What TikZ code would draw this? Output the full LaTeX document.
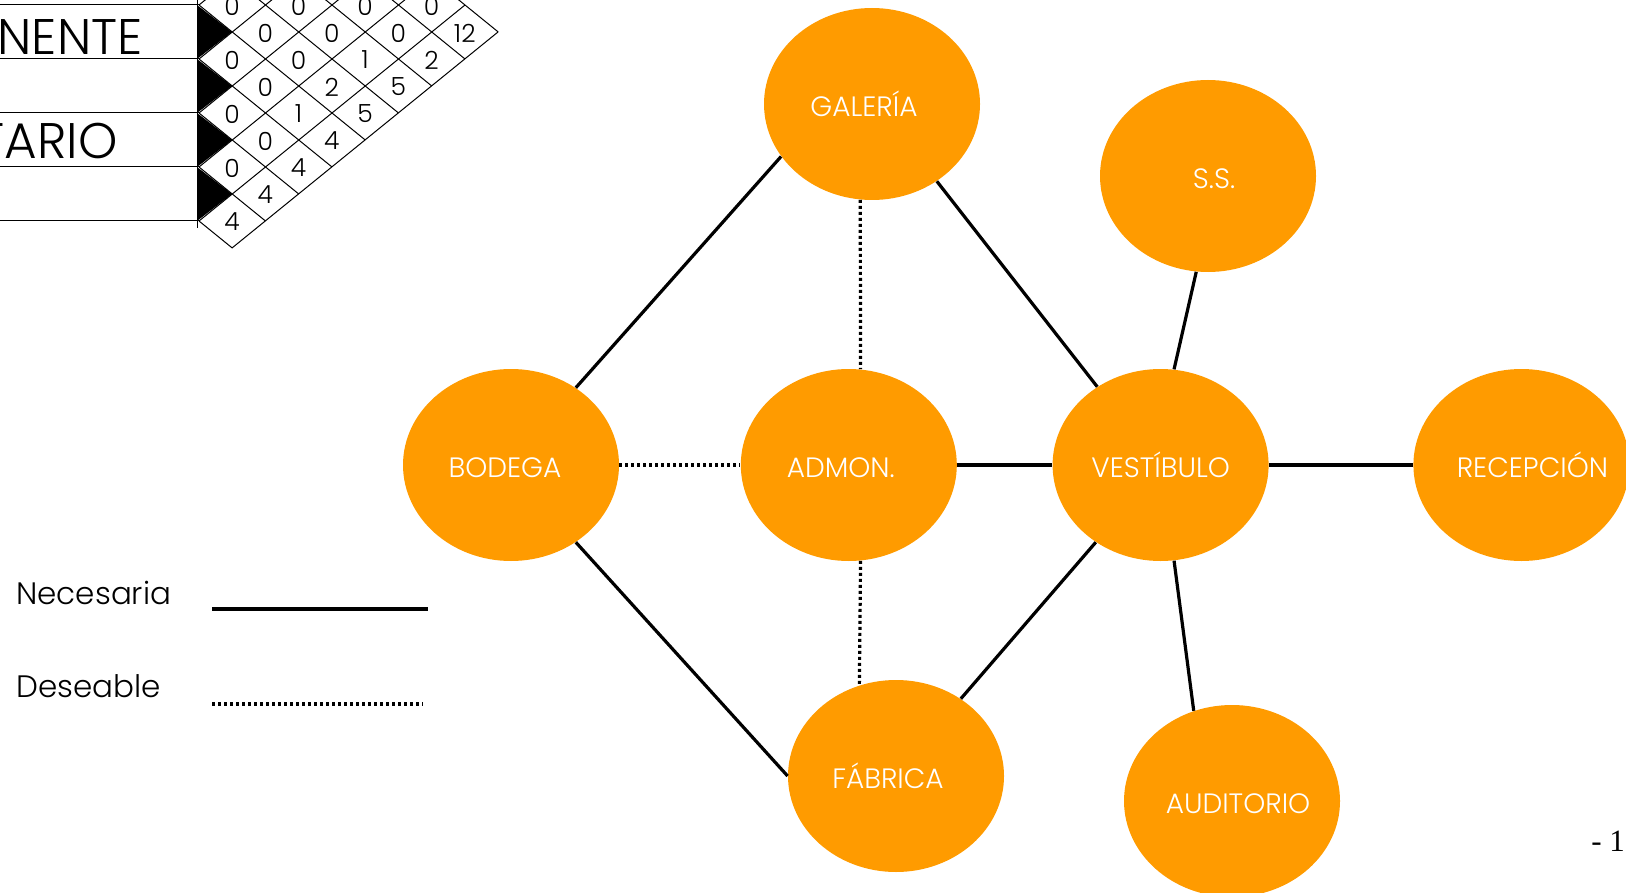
\documentclass[tikz,border=0pt]{standalone}
\usepackage{fontspec}
\setmainfont{Poppins}[UprightFont={* Light}]
\newfontfamily\pagefont{Liberation Serif}
\usetikzlibrary{positioning,shapes.geometric}
\definecolor{cRoom}{HTML}{FF9B00}
\definecolor{cInk} {HTML}{000000}
\tikzset{
  sroom/.style={ellipse,fill=cRoom,inner sep=0pt,
                minimum width=108pt,minimum height=96pt},
  sname/.style={text=white,inner sep=0pt,yshift=-1.5pt,
                text height=9.5pt,text depth=0pt,
                font=\fontsize{14}{16}\selectfont},
  snec/.style ={line width=1.6pt,cInk},
  sdes/.style ={line width=1.6pt,cInk,dash pattern=on 1.5pt off 1.5pt},
  sgrid/.style={line width=0.5pt,cInk},
  scell/.style={inner sep=0pt,font=\fontsize{12.5}{14}\selectfont},
  srow/.style ={inner sep=0pt,anchor=east,font=\fontsize{25}{28}\selectfont},
  skey/.style ={inner sep=0pt,anchor=west,font=\fontsize{15.5}{18}\selectfont},
}

\begin{document}
\begin{tikzpicture}[x=0.5pt,y=-0.5pt]
    \useasboundingbox (0,0) rectangle (1626,893);
    \clip (0,0) rectangle (1626,893);
    % matrix, cut off at the page corner
    \foreach \Y in {5,59,113,167,221}
      \draw[sgrid] (0,\Y) -- (199,\Y);
    \draw[sgrid] (197,0) -- (197,228);
    \foreach \Y in {5,59,113,167}
      \fill[cInk] (197,\Y) -- (232,{\Y+27}) -- (197,{\Y+54}) -- cycle;
    \foreach \Y [evaluate=\Y as \tb using (\Y+211)/54] in {5,59,113,167,221}
      \draw[sgrid] (199,\Y) -- ++({33.25*\tb},{-27*\tb});
    \draw[sgrid] (232,248) -- (498,32);
    \foreach \Y [evaluate=\Y as \tb using (275-\Y)/54] in {-211,-157,-103,-49,5,59,113,167,221}
      \draw[sgrid] (199,\Y) -- ++({33.25*\tb},{27*\tb});
    \node[srow] (rnen) at (143,37) {NENTE};
    \node[srow] (rtar) at (118,141) {TARIO};
    \foreach \m/\y/\v in {0/5/0,0/59/0,0/113/0,0/167/0,0/221/4,
                          1/32/0,1/86/0,1/140/0,1/194/4,
                          2/5/0,2/59/0,2/113/1,2/167/4,
                          3/32/0,3/86/2,3/140/4,
                          4/5/0,4/59/1,4/113/5,
                          5/32/0,5/86/5,
                          6/5/0,6/59/2,
                          7/32/12}
      \node[scell] at ({232+33.25*\m},{\y+1}) {\v};
    % rooms
    \node[sroom,label={[sname,xshift=-4pt]center:GALERÍA}] (gal) at (872,104) {};
    \node[sroom,label={[sname,xshift=3pt]center:S.S.}]     (ss)  at (1208,176) {};
    \node[sroom,label={[sname,xshift=-3pt]center:BODEGA}]  (bod) at (511,465) {};
    \node[sroom,right=60.5pt of bod,label={[sname,xshift=-4pt]center:ADMON.}] (adm) {};
    \node[sroom,right=47.5pt of adm,label={[sname]center:VESTÍBULO}]          (ves) {};
    \node[sroom,right=72pt of ves,label={[sname,xshift=5.5pt]center:RECEPCIÓN}] (rec) {};
    \node[sroom,label={[sname,xshift=-4pt]center:FÁBRICA}] (fab) at (896,776) {};
    \node[sroom,label={[sname,xshift=3pt]center:AUDITORIO}] (aud) at (1232,801) {};
    % links
    \draw[snec] (bod.50)   -- (gal.210);
    \draw[snec] (gal.310)  -- (ves.129);
    \draw[snec] (ss.263)   -- (ves.82);
    \draw[sdes] (bod.east) -- (adm.west);
    \draw[snec] (adm.east) -- (ves.west);
    \draw[snec] (ves.east) -- (rec.west);
    \draw[sdes] (gal.263)  -- (adm.83);
    \draw[sdes] (adm.277)  -- (fab.112);
    \draw[snec] (bod.310)  -- (fab.west);
    \draw[snec] (ves.230)  -- (fab.50);
    \draw[snec] (ves.278)  -- (aud.113);
    % key
    \node[skey] (knec) at (16,593) {Necesaria};
    \coordinate (knecA) at (212,609);
    \coordinate (knecB) at (428,609);
    \draw[snec] (knecA) -- (knecB);
    \node[skey] (kdes) at (16,686) {Deseable};
    \coordinate (kdesA) at (212,704);
    \coordinate (kdesB) at (423,704);
    \draw[sdes] (kdesA) -- (kdesB);
    \node[inner sep=0pt,anchor=base west,font=\pagefont\fontsize{15.5}{18}\selectfont]
      (pg) at (1591,851) {- 1};
\end{tikzpicture}
\end{document}
